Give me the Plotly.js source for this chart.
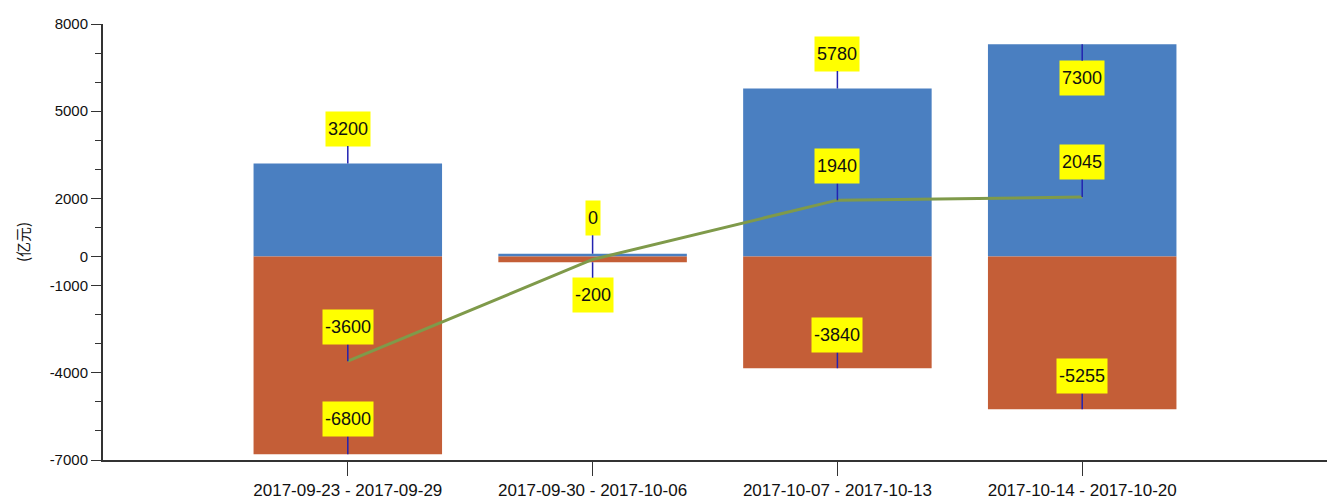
<!DOCTYPE html>
<html>
<head>
<meta charset="utf-8">
<script src="https://cdn.plot.ly/plotly-3.0.1.min.js"></script>
<style>html,body{margin:0;padding:0;background:#fff;}#chart{width:1335px;height:502px;}</style>
</head>
<body>
<div id="chart"></div>
<script>
// ---- data ----
const weeks = ["2017-09-23 - 2017-09-29", "2017-09-30 - 2017-10-06", "2017-10-07 - 2017-10-13", "2017-10-14 - 2017-10-20"];
const inflow = [3200, 100, 5780, 7300];
const outflow = [-6800, -200, -3840, -5255];
const net = [-3600, -100, 1940, 2045];
const inflowLabels = ["3200", "0", "5780", "7300"];
const outflowLabels = ["-6800", "-200", "-3840", "-5255"];
const netLabels = ["-3600", "", "1940", "2045"];
const yTickVals = [8000, 5000, 2000, 0, -1000, -4000, -7000];
const yMinorVals = [7000, 6000, 4000, 3000, 1000, -2000, -3000, -5000, -6000];
const yTitle = "(亿元)";

// ---- style ----
const FONT = "'Liberation Sans', Arial, sans-serif";
const BLUE = "#4a7fc1", ORANGE = "#c45e37", OLIVE = "#7f9a4a";
// label offsets (pixels, + = below point)
const inflowOff = [-35, -36, -35, 34];
const outflowOff = [-35, 33, -33, -33];
const netOff = [-34, 0, -34, -35];

const traces = [
  {type: "bar", x: weeks, y: inflow, marker: {color: BLUE}, width: 0.77, hoverinfo: "skip"},
  {type: "bar", x: weeks, y: outflow, marker: {color: ORANGE}, width: 0.77, hoverinfo: "skip"},
  {type: "scatter", mode: "lines", x: weeks, y: net, line: {color: OLIVE, width: 3}, hoverinfo: "skip"}
];

function label(x, y, text, ay) {
  return {
    x: x, y: y, xref: "x", yref: "y", text: text,
    showarrow: true, arrowhead: 0, arrowwidth: 1.5, arrowcolor: "#2323b0",
    ax: 0, ay: ay, standoff: 0,
    bgcolor: "#ffff00", height: 30, borderpad: 2,
    font: {family: FONT, size: 18, color: "#111"}
  };
}
const annotations = [];
weeks.forEach((w, i) => {
  annotations.push(label(w, inflow[i], inflowLabels[i], inflowOff[i]));
  annotations.push(label(w, outflow[i], outflowLabels[i], outflowOff[i]));
  if (netLabels[i]) annotations.push(label(w, net[i], netLabels[i], netOff[i]));
});

const layout = {
  width: 1335, height: 502,
  margin: {l: 103, r: 8, t: 24, b: 42, pad: 0},
  paper_bgcolor: "#fff", plot_bgcolor: "#fff",
  showlegend: false, barmode: "relative",
  font: {family: FONT, color: "#111"},
  xaxis: {
    type: "category", range: [-1, 4], fixedrange: true,
    showline: true, linewidth: 2, linecolor: "#333",
    ticks: "outside", ticklen: 14, tickwidth: 1, tickcolor: "#333",
    showgrid: false, zeroline: false,
    tickfont: {family: FONT, size: 17, color: "#111"}
  },
  yaxis: {
    range: [-7000, 8000], fixedrange: true,
    showline: true, linewidth: 2, linecolor: "#333",
    ticks: "outside", ticklen: 10, tickwidth: 1, tickcolor: "#333",
    tickmode: "array", tickvals: yTickVals, ticktext: yTickVals.map(String),
    minor: {tickmode: "array", tickvals: yMinorVals, ticks: "outside", ticklen: 6, tickwidth: 1, tickcolor: "#333", showgrid: false},
    showgrid: false, zeroline: false,
    tickfont: {family: FONT, size: 15, color: "#111"},
    title: {text: yTitle, standoff: 16, font: {family: "'Noto Sans CJK SC', sans-serif", size: 15, color: "#111"}}
  },
  annotations: annotations
};

Plotly.newPlot("chart", traces, layout, {displayModeBar: false, staticPlot: true});
</script>
</body>
</html>
